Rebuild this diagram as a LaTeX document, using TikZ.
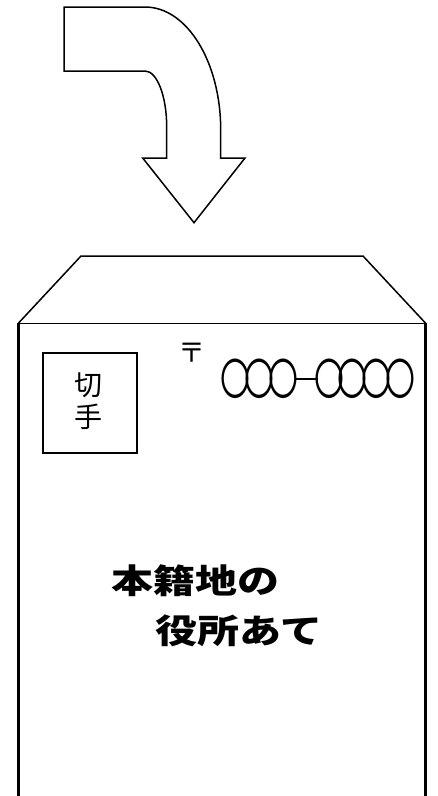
\documentclass[tikz,border=0pt]{standalone}
\usepackage{fontspec}
\newfontfamily\jp{Noto Sans CJK JP}
\newfontfamily\jplight{Noto Sans CJK JP Light}
\newfontfamily\jpblack{Noto Sans CJK JP Black}
\newcommand\maruchar{\makebox[23.6pt][c]{\scalebox{0.68}[1]{〇}}}
\newcommand\bouchar{\makebox[22.7pt][c]{\raisebox{16pt}{\rule{22.7pt}{1.7pt}}}}
\begin{document}
\begin{tikzpicture}[x=1pt,y=-1pt,
  thin line/.style={draw=black,line width=1.5pt,line join=miter},
  side line/.style={draw=black,line width=2.6pt},
  lbl/.style={inner sep=0pt,outer sep=0pt}]
\useasboundingbox (0,0) rectangle (438,796);
% curved arrow
\draw[thin line,fill=white] (64,7) -- (145,7)
  .. controls (187,7) and (220.7,62) .. (220.7,130) -- (220.7,158)
  -- (245,158) -- (194,222.7) -- (142.7,158) -- (166.7,158) -- (166.7,127)
  .. controls (166.7,96) and (157,71) .. (145,71) -- (64,71) -- cycle;
% envelope flap
\draw[thin line] (18.3,323.3) -- (81,256) -- (363,256) -- (425.7,323.3);
\draw[thin line] (18.3,323.3) -- (425.7,323.3);
% envelope sides
\draw[side line] (18.3,322.5) -- (18.3,797);
\draw[side line] (425.7,322.5) -- (425.7,797);
\draw[draw=black!35,line width=1pt] (18.3,796) -- (425.7,796);
% stamp
\node[lbl,draw=black,line width=2pt,minimum width=94pt,minimum height=100.6pt] (stamp) at (89.7,403) {};
\node[lbl,align=center,font=\fontsize{28}{32}\jp] (kitte) at (88,401) {切\\手};
% postal mark and code
\node[lbl,font=\fontsize{27}{27}\jp] (yubin) at (192,353) {〒};
\node[lbl] (code) at (318,379) {\fontsize{44}{44}\jp\maruchar\maruchar\maruchar\bouchar\maruchar\maruchar\maruchar\maruchar};
% address text
\node[lbl,anchor=west] (line1) at (111,581) {\scalebox{1}[0.8]{\fontsize{42}{42}\jpblack 本籍地の}};
\node[lbl,anchor=west] (line2) at (155,631) {\scalebox{1}[0.8]{\fontsize{42}{42}\jpblack 役所あて}};
\end{tikzpicture}
\end{document}
